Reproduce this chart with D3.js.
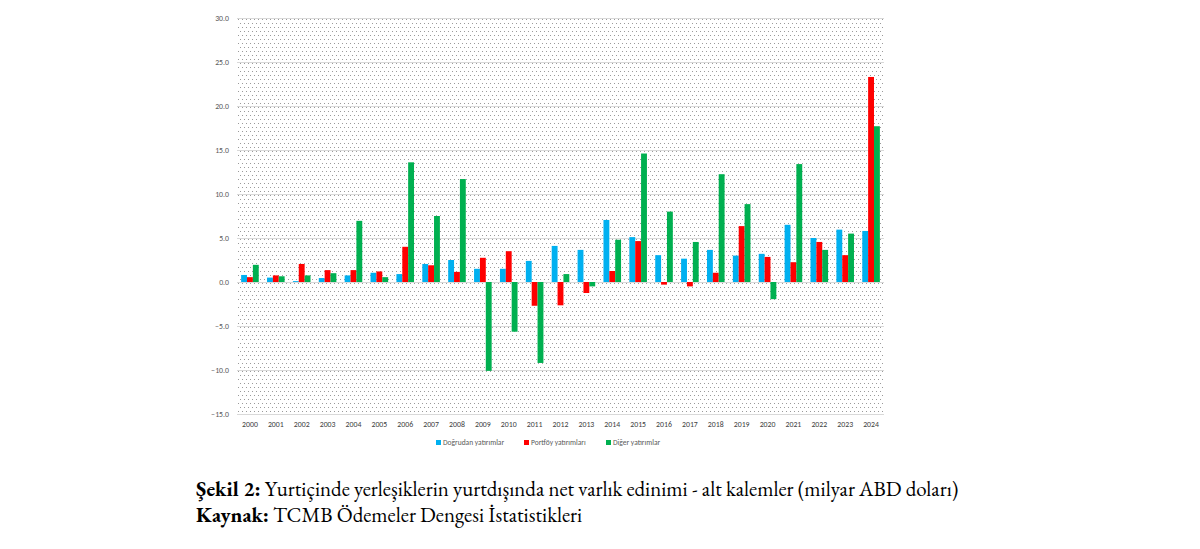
<!DOCTYPE html>
<html>
<head>
<meta charset="utf-8">
<script src="https://cdn.jsdelivr.net/npm/d3@7"></script>
<style>
  html, body { margin: 0; padding: 0; background: #fff; }
  svg { display: block; }
</style>
</head>
<body>
<svg id="chart" width="1200" height="549"></svg>
<script>
const years = ['2000', '2001', '2002', '2003', '2004', '2005', '2006', '2007', '2008', '2009', '2010', '2011', '2012',
    '2013', '2014', '2015', '2016', '2017', '2018', '2019', '2020', '2021', '2022', '2023', '2024'];
const seriesNames = ['Doğrudan yatırımlar', 'Portföy yatırımları', 'Diğer yatırımlar'];
const seriesColors = ['#00b0f0', '#ff0000', '#00b050'];
const directInv = [0.8, 0.5, 0.1, 0.45, 0.75, 1.05, 0.9, 2.05, 2.5, 1.5, 1.5, 2.4, 4.1,
    3.65, 7.05, 5.1, 3.05, 2.65, 3.65, 3.0, 3.2, 6.5, 5.0, 5.95, 5.8];
const portfolioInv = [0.55, 0.75, 2.05, 1.35, 1.35, 1.2, 4.0, 1.9, 1.15, 2.75, 3.5, -2.7, -2.65,
    -1.25, 1.25, 4.65, -0.3, -0.5, 1.05, 6.35, 2.85, 2.25, 4.55, 3.05, 23.3];
const otherInv = [1.95, 0.65, 0.75, 1.0, 6.95, 0.55, 13.6, 7.5, 11.7, -10.1, -5.65, -9.2, 0.9,
    -0.5, 4.8, 14.6, 8.0, 4.55, 12.25, 8.85, -1.95, 13.4, 3.65, 5.5, 17.7];
const yTicks = [30, 25, 20, 15, 10, 5, 0, -5, -10, -15];

const series = [directInv, portfolioInv, otherInv];

const plotLeft = 237, plotRight = 884, plotTop = 18, plotBottom = 414;
const smallFont = 'Calibri, Carlito, "Liberation Sans", Arial, sans-serif';

const svg = d3.select('#chart');

// dotted plot-area fill, like the Excel 5% pattern
const defs = svg.append('defs');
const pat = defs.append('pattern')
    .attr('id', 'dots')
    .attr('patternUnits', 'userSpaceOnUse')
    .attr('x', plotLeft).attr('y', plotTop)
    .attr('width', 4).attr('height', 8);
pat.append('rect').attr('width', 4).attr('height', 8).attr('fill', '#fff');
pat.append('rect').attr('x', 1).attr('y', 1).attr('width', 1).attr('height', 1).attr('fill', '#9a9a9a');
pat.append('rect').attr('x', 3).attr('y', 5).attr('width', 1).attr('height', 1).attr('fill', '#9a9a9a');

const x = d3.scaleBand().domain(years).range([plotLeft, plotRight]).paddingInner(0.32).paddingOuter(0.16);
const xSub = d3.scaleBand().domain(d3.range(series.length)).range([0, x.bandwidth()]);
const y = d3.scaleLinear().domain([-15, 30]).range([plotBottom, plotTop]);

svg.append('rect')
    .attr('x', plotLeft).attr('y', plotTop)
    .attr('width', plotRight - plotLeft).attr('height', plotBottom - plotTop)
    .attr('fill', 'url(#dots)');

const yAxis = svg.append('g')
    .attr('transform', `translate(${plotLeft},0)`)
    .call(d3.axisLeft(y).tickValues(yTicks).tickSize(-(plotRight - plotLeft)).tickFormat(d3.format('.1f')));
yAxis.select('.domain').remove();
yAxis.selectAll('line').attr('stroke', '#d9d9d9').attr('stroke-width', 1);
yAxis.selectAll('text')
    .attr('x', -8)
    .attr('fill', '#595959')
    .attr('font-family', smallFont)
    .attr('font-size', 7.8);

const groups = svg.append('g').selectAll('g')
    .data(years)
    .join('g')
    .attr('transform', d => `translate(${x(d)},0)`);

groups.selectAll('rect')
    .data((d, i) => series.map((s, k) => ({ k, v: s[i] })))
    .join('rect')
    .attr('x', d => xSub(d.k))
    .attr('width', xSub.bandwidth())
    .attr('y', d => y(Math.max(0, d.v)))
    .attr('height', d => Math.abs(y(d.v) - y(0)))
    .attr('fill', d => seriesColors[d.k]);

const xAxis = svg.append('g')
    .attr('transform', `translate(0,${plotBottom})`)
    .call(d3.axisBottom(x).tickSize(0).tickPadding(7));
xAxis.select('.domain').remove();
xAxis.selectAll('text')
    .attr('fill', '#404040')
    .attr('font-family', smallFont)
    .attr('font-size', 7.8);

// legend
const legendX = [436, 524, 606];
const legend = svg.append('g').selectAll('g')
    .data(seriesNames)
    .join('g')
    .attr('transform', (d, i) => `translate(${legendX[i]},440)`);
legend.append('rect')
    .attr('width', 5).attr('height', 5)
    .attr('fill', (d, i) => seriesColors[i]);
legend.append('text')
    .attr('x', 7).attr('y', 5)
    .attr('fill', '#595959')
    .attr('font-family', smallFont)
    .attr('font-size', 7.5)
    .text(d => d);

// caption
const caption = svg.append('g')
    .attr('font-family', '"EB Garamond", Garamond, "Liberation Serif", "DejaVu Serif", serif')
    .attr('font-size', 20.9)
    .attr('fill', '#000');
const line1 = caption.append('text').attr('x', 196).attr('y', 496);
line1.append('tspan').attr('font-weight', 'bold').text('Şekil 2:');
line1.append('tspan').text(' Yurtiçinde yerleşiklerin yurtdışında net varlık edinimi - alt kalemler (milyar ABD doları)');
const line2 = caption.append('text').attr('x', 196).attr('y', 522);
line2.append('tspan').attr('font-weight', 'bold').text('Kaynak:');
line2.append('tspan').text(' TCMB Ödemeler Dengesi İstatistikleri');
</script>
</body>
</html>
